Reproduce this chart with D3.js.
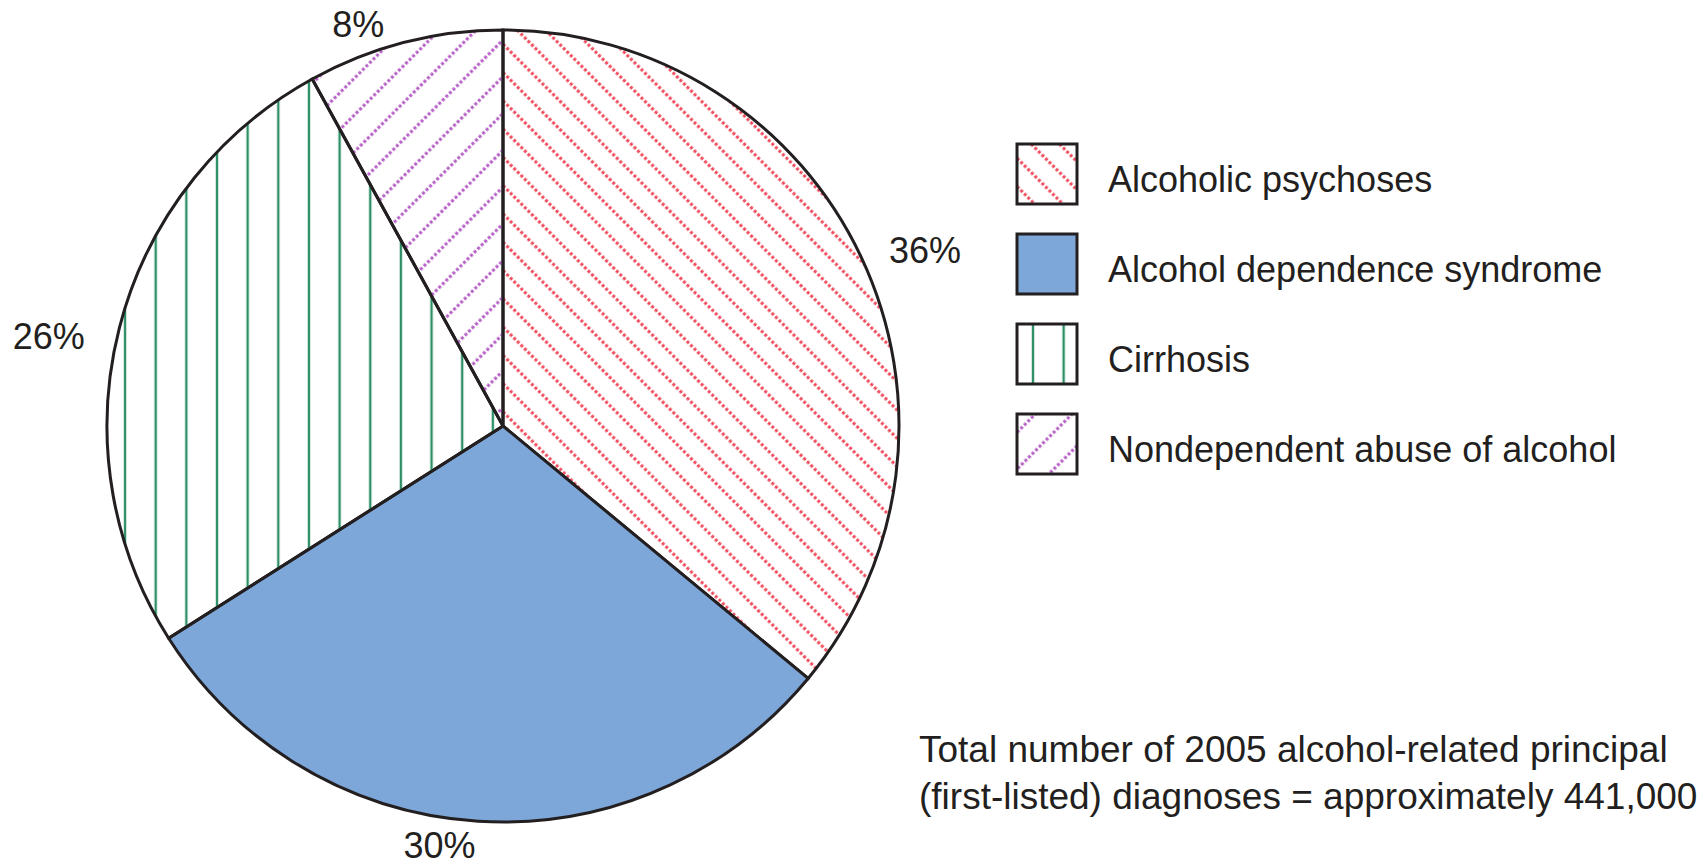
<!DOCTYPE html>
<html>
<head>
<meta charset="utf-8">
<script src="https://cdn.jsdelivr.net/npm/d3@7"></script>
<style>
  body { margin: 0; background: #fff; }
  text { font-family: "Liberation Sans", Arial, sans-serif; fill: #231f20; }
</style>
</head>
<body>
<script>
const categories = ["Alcoholic psychoses", "Alcohol dependence syndrome", "Cirrhosis", "Nondependent abuse of alcohol"];
const percents = [36, 30, 26, 8];
const footnoteLines = [
  "Total number of 2005 alcohol-related principal",
  "(first-listed) diagnoses = approximately 441,000"
];

const width = 1700, height = 866;
const cx = 503, cy = 426, radius = 396;
// label placement: angle nudge (deg) and radius per slice
const labelNudge = [2.6, 5, -3.2, -5.4];
const labelRadius = [457, 424, 463, 427];

const INK = "#231f20";

const svg = d3.select("body").append("svg")
  .attr("width", width)
  .attr("height", height)
  .attr("xmlns", "http://www.w3.org/2000/svg");

const defs = svg.append("defs");

function dotted(id, color, angle, gap) {
  const p = defs.append("pattern")
    .attr("id", id)
    .attr("patternUnits", "userSpaceOnUse")
    .attr("width", gap)
    .attr("height", 40)
    .attr("patternTransform", `rotate(${angle})`);
  p.append("line")
    .attr("x1", gap / 2).attr("y1", 0)
    .attr("x2", gap / 2).attr("y2", 40)
    .attr("stroke", color)
    .attr("stroke-width", 3)
    .attr("stroke-dasharray", "3 2");
}
dotted("pat-red", "#ef4b5c", -45, 20);
dotted("pat-purple", "#b65fc6", 45, 26);

function vertical(id, offset) {
  const step = 30.65;
  const p = defs.append("pattern")
    .attr("id", id)
    .attr("patternUnits", "userSpaceOnUse")
    .attr("x", offset)
    .attr("width", step)
    .attr("height", 30);
  [0, step].forEach(x => p.append("line")
    .attr("x1", x).attr("y1", 0)
    .attr("x2", x).attr("y2", 30)
    .attr("stroke", "#2e8f66")
    .attr("stroke-width", 2.4));
}
vertical("pat-green", 20.5);
vertical("pat-green-key", 16);

const fills = ["url(#pat-red)", "#7ea7d9", "url(#pat-green)", "url(#pat-purple)"];
const keyFills = ["url(#pat-red)", "#7ea7d9", "url(#pat-green-key)", "url(#pat-purple)"];

const pie = d3.pie().sort(null).value(d => d);
const arcs = pie(percents);
const arc = d3.arc().innerRadius(0).outerRadius(radius);

const g = svg.append("g").attr("transform", `translate(${cx},${cy})`);

g.selectAll("path.bg")
  .data(arcs)
  .join("path")
  .attr("d", arc)
  .attr("fill", "#fff");

g.selectAll("path.slice")
  .data(arcs)
  .join("path")
  .attr("class", "slice")
  .attr("d", arc)
  .attr("fill", (d, i) => fills[i])
  .attr("stroke", INK)
  .attr("stroke-width", 3)
  .attr("stroke-linejoin", "miter");

g.selectAll("text.pct")
  .data(arcs)
  .join("text")
  .attr("class", "pct")
  .attr("transform", (d, i) => {
    const a = (d.startAngle + d.endAngle) / 2 + labelNudge[i] * Math.PI / 180;
    const r = labelRadius[i];
    return `translate(${r * Math.sin(a)},${-r * Math.cos(a)})`;
  })
  .attr("text-anchor", "middle")
  .attr("dy", "0.35em")
  .attr("font-size", 36)
  .text(d => d.data + "%");

// legend
const legend = svg.append("g").attr("transform", "translate(1017,144)");
const rows = legend.selectAll("g")
  .data(categories)
  .join("g")
  .attr("transform", (d, i) => `translate(0,${i * 90})`);
rows.append("rect")
  .attr("width", 60).attr("height", 60)
  .attr("fill", "#fff");
rows.append("rect")
  .attr("width", 60).attr("height", 60)
  .attr("fill", (d, i) => keyFills[i])
  .attr("stroke", INK)
  .attr("stroke-width", 3);
rows.append("text")
  .attr("x", 91)
  .attr("y", 35)
  .attr("dy", "0.35em")
  .attr("font-size", 36)
  .text(d => d);

// footnote
svg.append("g")
  .selectAll("text")
  .data(footnoteLines)
  .join("text")
  .attr("x", 919)
  .attr("y", (d, i) => 762 + i * 47)
  .attr("font-size", 37)
  .text(d => d);
</script>
</body>
</html>
